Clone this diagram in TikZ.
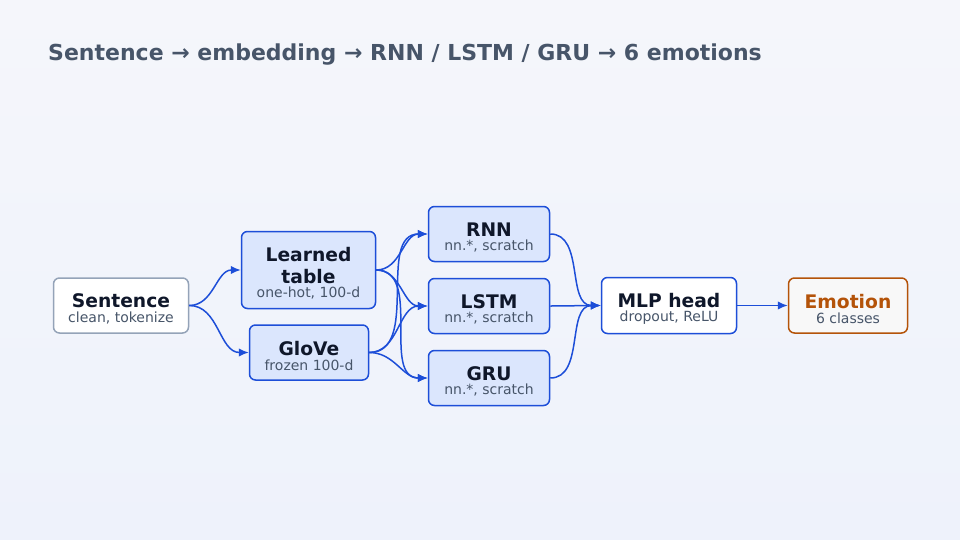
\documentclass[tikz,border=0pt]{standalone}
\usepackage{fontspec}
\setmainfont{DejaVu Sans}
\usepackage{xcolor}
\definecolor{bgtop}{HTML}{F5F6FB}
\definecolor{bgbottom}{HTML}{EEF2FB}
\definecolor{edgeblue}{HTML}{1D4ED8}
\definecolor{boxblue}{HTML}{DBE6FD}
\definecolor{ink}{HTML}{0F172A}
\definecolor{subink}{HTML}{475569}
\definecolor{slate}{HTML}{94A3B8}
\definecolor{amber}{HTML}{B45309}
\definecolor{offwhite}{HTML}{F8F8F8}
\usepackage{tikz}
\usetikzlibrary{arrows.meta,positioning}
\newcommand{\boxtext}[2]{\rule{0pt}{21pt}#1\\[-7.5pt]{\fontsize{14}{16}\selectfont\mdseries\color{subink}#2}}
\tikzset{
    stage/.style={draw=edgeblue, fill=boxblue, rounded corners=6pt, line width=1.5pt, align=center, text=ink, font=\fontsize{18.7}{22}\selectfont\bfseries, inner sep=0pt, minimum height=55pt},
    inputbox/.style={stage, draw=slate, fill=white},
    headbox/.style={stage, fill=white},
    outputbox/.style={stage, draw=amber, fill=offwhite, text=amber},
    flow/.style={-{Latex[length=10pt,width=8.5pt]}, line width=1.5pt, edgeblue}
}

\begin{document}
\begin{tikzpicture}[x=1pt, y=-1pt]
  % Canvas
  \useasboundingbox (0,0) rectangle (960,540);
  \shade[top color=bgtop, bottom color=bgbottom] (0,0) rectangle (960,540);

  \node[anchor=base west, inner sep=0pt, font=\fontsize{22}{26}\selectfont\bfseries, text=subink] (title) at (48,61) {Sentence → embedding → RNN / LSTM / GRU → 6 emotions};

  % Input and embeddings
  \node[inputbox, minimum width=135pt] (sent) at (121,305.5) {\boxtext{Sentence}{clean, tokenize}};
  \node[stage, minimum width=134pt, minimum height=77pt] (learned) at (308.5,270) {\boxtext{Learned\\table}{one-hot, 100-d}};
  \node[stage, minimum width=119pt] (glove) at (309,352.5) {\boxtext{GloVe}{frozen 100-d}};

  % Recurrent encoders
  \node[stage, minimum width=121pt] (rnn) at (489,234) {\boxtext{RNN}{nn.*, scratch}};
  \node[stage, minimum width=121pt] (lstm) at (489,306) {\boxtext{LSTM}{nn.*, scratch}};
  \node[stage, minimum width=121pt] (gru) at (489,378) {\boxtext{GRU}{nn.*, scratch}};

  % Classifier
  \node[headbox, minimum width=135pt, minimum height=56pt] (mlp) at (669,305.5) {\boxtext{MLP head}{dropout, ReLU}};
  \node[outputbox, minimum width=119pt] (emotion) at (848,305.5) {\boxtext{Emotion}{6 classes}};

  % Connectors
  \draw[flow] (sent.east) to[out=0, in=180] (learned.west);
  \draw[flow] (sent.east) to[out=0, in=180] (glove.west);

  \foreach \enc in {rnn, lstm, gru} {
    \draw[flow] (learned.east) to[out=0, in=180] (\enc.west);
    \draw[flow] (glove.east) to[out=0, in=180] (\enc.west);
    \draw[flow] (\enc.east) to[out=0, in=180] (mlp.west);
  }

  \draw[flow] (mlp) -- (emotion);
\end{tikzpicture}
\end{document}
